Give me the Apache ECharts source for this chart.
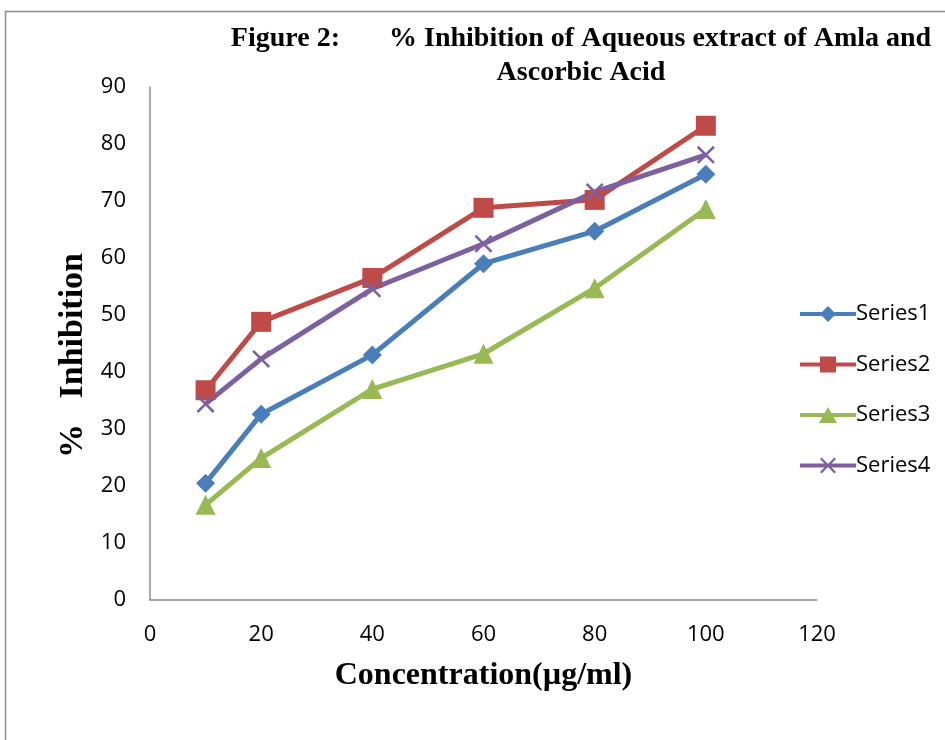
<!DOCTYPE html>
<html><head><meta charset="utf-8">
<script src="https://cdn.jsdelivr.net/npm/echarts@6/dist/echarts.min.js"></script>
<style>html,body{margin:0;padding:0;background:#fff}#c{width:945px;height:740px}</style>
</head><body><div id="c"></div>
<script>
const concentrations = [10, 20, 40, 60, 80, 100];
const series1 = [20.5, 32.6, 43.0, 59.0, 64.7, 74.7];
const series2 = [36.8, 48.8, 56.5, 68.8, 70.2, 83.2];
const series3 = [16.7, 24.9, 37.0, 43.2, 54.7, 68.6];
const series4 = [34.4, 42.3, 54.6, 62.5, 71.6, 78.1];
const seriesNames = ['Series1', 'Series2', 'Series3', 'Series4'];
const titleText = 'Figure 2:       % Inhibition of Aqueous extract of Amla and\nAscorbic Acid';
const xTitle = 'Concentration(µg/ml)';
const yTitle = '%   Inhibition';

const crossPath = 'path://M0,1 L1,0 L5,4 L9,0 L10,1 L6,5 L10,9 L9,10 L5,6 L1,10 L0,9 L4,5 Z';
const colors = ['#4a7ebb', '#be4b48', '#98b954', '#7d60a0'];
const symbols = ['diamond', 'rect', 'triangle', crossPath];
const symbolSizes = [19, 20, 20, 18];
const values = [series1, series2, series3, series4];

// legend icons: thick line plus marker, in a 56x18 box
const lineBar = 'M0,7 L56,7 L56,11 L0,11 Z ';
const corners = ' M0,0 L0.01,0 L0.01,0.01 Z M0,18 L0.01,18 L0.01,17.99 Z';
const legendIcons = [
  'path://' + lineBar + 'M28,1 L36,9 L28,17 L20,9 Z' + corners,
  'path://' + lineBar + 'M20,1 L36,1 L36,17 L20,17 Z' + corners,
  'path://' + lineBar + 'M28,1 L37,17 L19,17 Z' + corners,
  'path://' + lineBar + 'M20,2.6 L21.6,1 L28,7.4 L34.4,1 L36,2.6 L29.6,9 L36,15.4 L34.4,17 L28,10.6 L21.6,17 L20,15.4 L26.4,9 Z' + corners
];

const chart = echarts.init(document.getElementById('c'));
chart.setOption({
  animation: false,
  backgroundColor: '#fff',
  title: {
    text: titleText,
    left: 576, top: 17, textAlign: 'center',
    textStyle: {fontFamily: 'Liberation Serif', fontWeight: 'bold', fontSize: 28, color: '#000', lineHeight: 34}
  },
  graphic: [{
    type: 'rect', shape: {x: 5.5, y: 11.5, width: 960, height: 760},
    style: {fill: 'none', stroke: '#8c8c8c', lineWidth: 1.5}, silent: true
  }],
  legend: {
    orient: 'vertical', left: 795, top: 298,
    itemWidth: 56, itemHeight: 20, itemGap: 28.5,
    textStyle: {fontFamily: 'Open Sans', fontSize: 22, color: '#000', lineHeight: 20, padding: [0,0,0,-5]},
    data: seriesNames.map((n, i) => ({name: n, icon: legendIcons[i]}))
  },
  grid: {left: 150, top: 87, right: 128, bottom: 140},
  xAxis: {
    type: 'value', min: 0, max: 120, interval: 20,
    name: xTitle, nameLocation: 'middle', nameGap: 60,
    nameTextStyle: {fontFamily: 'Liberation Serif', fontWeight: 'bold', fontSize: 32, color: '#000'},
    axisLine: {lineStyle: {color: '#8c8c8c', width: 1.5}},
    axisTick: {show: false},
    axisLabel: {fontFamily: 'Open Sans', fontSize: 22, color: '#000', margin: 24},
    splitLine: {show: false}
  },
  yAxis: {
    type: 'value', min: 0, max: 90, interval: 10,
    name: yTitle, nameLocation: 'middle', nameGap: 58,
    nameTextStyle: {fontFamily: 'Liberation Serif', fontWeight: 'bold', fontSize: 34, color: '#000', padding: [0, 24, 0, 0]},
    axisLine: {show: true, lineStyle: {color: '#8c8c8c', width: 1.5}},
    axisTick: {show: false},
    axisLabel: {fontFamily: 'Open Sans', fontSize: 22, color: '#000', margin: 24},
    splitLine: {show: false}
  },
  series: seriesNames.map((n, i) => ({
    name: n, type: 'line',
    data: concentrations.map((x, j) => [x, values[i][j]]),
    symbol: symbols[i], symbolSize: symbolSizes[i],
    showAllSymbol: true,
    lineStyle: {color: colors[i], width: 5},
    itemStyle: {color: colors[i]},
    z: 2
  }))
});
</script></body></html>
